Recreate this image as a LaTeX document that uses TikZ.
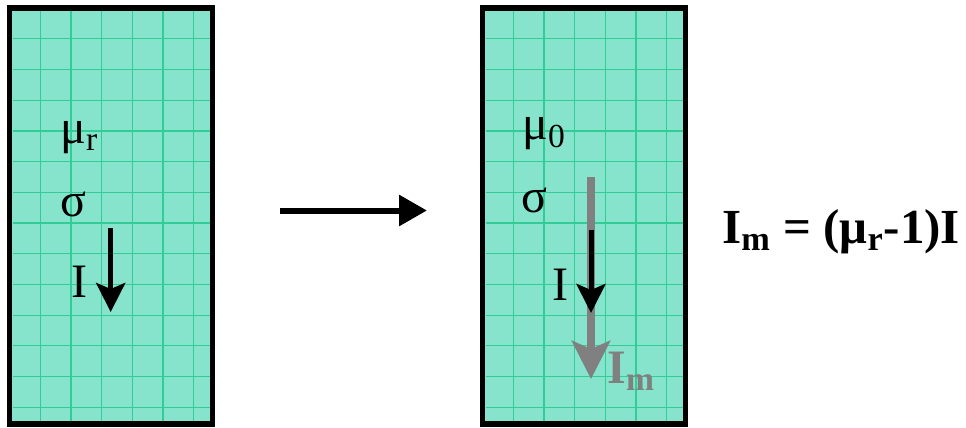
\documentclass[tikz,border=0pt]{standalone}
\usepackage{fontspec}
\setmainfont{Liberation Serif}
\usepackage{xcolor}
\usepackage{tikz}
\usetikzlibrary{arrows.meta,positioning}
\definecolor{slab}{RGB}{134,228,204}
\definecolor{slabgrid}{RGB}{50,205,150}
\definecolor{magray}{RGB}{128,128,128}
\newcommand{\lbl}{\fontsize{24}{28}\selectfont}

\begin{document}
\begin{tikzpicture}[x=0.5pt, y=-0.5pt, font=\lbl,
  panel/.style={draw, line width=2.8pt, fill=slab, inner sep=0pt, outer sep=0pt,
    minimum width=101.5pt, minimum height=207.9pt},
  cell/.style={slabgrid, line width=0.6pt, step=15.35pt},
  sym/.style={anchor=base west, inner sep=0pt},
  cur/.style={line width=2.5pt, -{Stealth[length=14.5pt, width=14.5pt, inset=3pt]}}]
\useasboundingbox (0,0) rectangle (966,428);
% the two slabs
\node[panel] (lbox) at (111,216) {};
\node[panel] (rbox) at (584,216) {};
\begin{scope}[shift={(lbox.north west)}]
  \draw[cell] (3,413) grid (200,3);
\end{scope}
\begin{scope}[shift={(rbox.north west)}]
  \draw[cell] (3,413) grid (200,3);
\end{scope}
% material with mu_r
\node[sym] (mur) at (60,143) {μ\textsubscript{r}};
\node[sym] (sigl) at (60,216) {σ};
\node[sym] (il) at (71,297) {I};
\coordinate (lt) at (110.7,228);
\coordinate (lb) at (110.7,312);
\draw[cur] (lt) -- (lb);
% transformation
\coordinate (ms) at (280,210.5);
\coordinate (me) at (427,210.5);
\draw[line width=3pt, -{Triangle[length=14pt, width=15pt]}] (ms) -- (me);
% equivalent vacuum slab with magnetisation current
\node[sym] (mu0) at (522,140) {μ\textsubscript{0}};
\node[sym] (sigr) at (521,212) {σ};
\node[sym] (ir) at (552,300) {I};
\coordinate (gt) at (591,177);
\coordinate (gb) at (591,379);
\draw[magray, line width=4pt, -{Stealth[length=19pt, width=19pt, inset=4pt]}] (gt) -- (gb);
\coordinate (rt) at (591,230);
\coordinate (rb) at (591,313);
\draw[cur] (rt) -- (rb);
\node[sym, magray, font=\lbl\bfseries] (im) at (607,383) {I\textsubscript{m}};
% relation
\node[sym, font=\fontsize{24.5}{30}\selectfont\bfseries] (eq) at (722,243)
  {I\textsubscript{m} = (μ\textsubscript{r}-1)I};
\end{tikzpicture}
\end{document}
